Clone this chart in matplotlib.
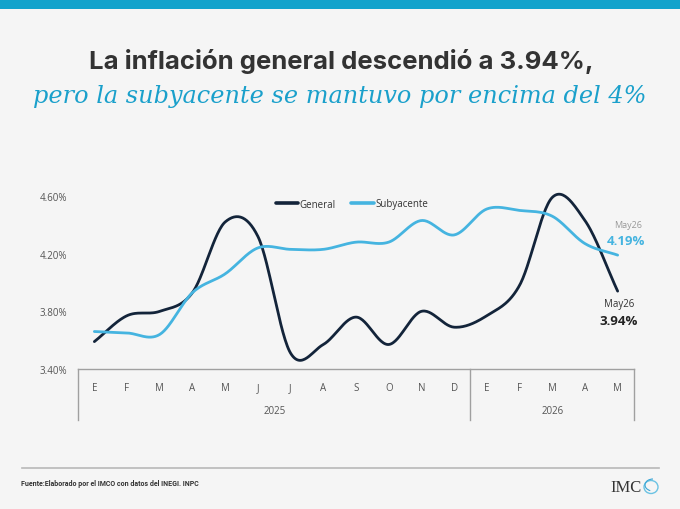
import numpy as np
import matplotlib
matplotlib.use("Agg")
import matplotlib.pyplot as plt
from matplotlib import transforms
from matplotlib.lines import Line2D
from matplotlib.patches import Rectangle, Ellipse, Arc

# ---- data ----
months = ['E', 'F', 'M', 'A', 'M', 'J', 'J', 'A', 'S', 'O', 'N', 'D',
          'E', 'F', 'M', 'A', 'M']
years = ['2025', '2026']
general = [3.59, 3.77, 3.80, 3.93, 4.42, 4.32, 3.51, 3.57, 3.76, 3.57, 3.80, 3.69,
           3.77, 3.98, 4.59, 4.43, 3.94]
subyacente = [3.66, 3.65, 3.64, 3.93, 4.06, 4.24, 4.23, 4.23, 4.28, 4.28, 4.43, 4.33,
              4.51, 4.50, 4.46, 4.27, 4.19]
yticks = [3.40, 3.80, 4.20, 4.60]
ytick_labels = ['3.40%', '3.80%', '4.20%', '4.60%']

BG = '#F5F5F5'
DARK = '#13243A'
BLUE = '#45B4E0'
TITLE_BLUE = '#1AA0CB'


def smooth(y, n=30):
    """Catmull-Rom style smoothing (like a spreadsheet 'smoothed line')."""
    y = np.asarray(y, float)
    x = np.arange(len(y), dtype=float)
    m = np.zeros_like(y)
    m[1:-1] = (y[2:] - y[:-2]) / 2.0
    m[0] = y[1] - y[0]
    m[-1] = y[-1] - y[-2]
    xs, ys = [], []
    for i in range(len(y) - 1):
        t = np.linspace(0, 1, n, endpoint=False)
        h00 = 2 * t**3 - 3 * t**2 + 1
        h10 = t**3 - 2 * t**2 + t
        h01 = -2 * t**3 + 3 * t**2
        h11 = t**3 - t**2
        xs.append(x[i] + t)
        ys.append(h00 * y[i] + h10 * m[i] + h01 * y[i + 1] + h11 * m[i + 1])
    xs.append([x[-1]])
    ys.append([y[-1]])
    return np.concatenate(xs), np.concatenate(ys)


W, H = 680, 510
fig = plt.figure(figsize=(W / 100, H / 100), dpi=100, facecolor=BG)


def fx(px):
    return px / W


def fy(py):
    return (H - py) / H


# top stripe
fig.patches.append(Rectangle((0, fy(10)), 1, 10 / H, transform=fig.transFigure,
                             facecolor='#12A3CC', edgecolor='none', zorder=0))

# titles
fig.text(fx(341), fy(62), 'La inflación general descendió a 3.94%,', ha='center',
         va='center', fontsize=18.5, fontweight='bold', color='#333333', family='Inter')
fig.text(fx(340), fy(97), 'pero la subyacente se mantuvo por encima del 4%', ha='center',
         va='center', fontsize=17.3, style='italic', color=TITLE_BLUE, family='DejaVu Serif')

# axes
x0, x1 = 78, 634
ybot, ytop = 370, 182.6
ax = fig.add_axes([fx(x0), fy(ybot), (x1 - x0) / W, (ybot - ytop) / H])
ax.set_facecolor(BG)
ax.set_xlim(-0.5, len(months) - 0.5)
ax.set_ylim(3.40, 4.70)

xs, ys = smooth(general)
ax.plot(xs, ys, color=DARK, lw=2.0, label='General', solid_capstyle='round')
xs, ys = smooth(subyacente)
ax.plot(xs, ys, color=BLUE, lw=2.0, label='Subyacente', solid_capstyle='round')

for s in ['top', 'right', 'left']:
    ax.spines[s].set_visible(False)
ax.spines['bottom'].set_color('#A0A0A0')
ax.spines['bottom'].set_linewidth(1.0)
ax.set_xticks([])
ax.set_yticks(yticks)
ax.set_yticklabels(ytick_labels)
ax.tick_params(axis='y', length=0, pad=8, labelsize=7, labelcolor='#555555')
for lab in ax.get_yticklabels():
    lab.set_family('Open Sans')

# month / year table
blend = transforms.blended_transform_factory(ax.transData, fig.transFigure)
for i, m in enumerate(months):
    ax.text(i, fy(389), m, transform=blend, ha='center', va='center', fontsize=7,
            color='#555555', family='Open Sans')
ax.text(5.5, fy(412), years[0], transform=blend, ha='center', va='center', fontsize=7,
        color='#555555', family='Open Sans')
ax.text(14, fy(412), years[1], transform=blend, ha='center', va='center', fontsize=7,
        color='#555555', family='Open Sans')
for xv in [-0.5, 11.5, len(months) - 0.5]:
    ax.add_line(Line2D([xv, xv], [fy(370), fy(421)], transform=blend, color='#A0A0A0',
                       lw=1.0, clip_on=False))

# legend
leg = ax.legend(loc='center', bbox_to_anchor=(fx(352), fy(205)),
                bbox_transform=fig.transFigure, ncol=2, frameon=False, fontsize=7,
                handlelength=2.3, handletextpad=0.15, columnspacing=1.6)
for t in leg.get_texts():
    t.set_color('#333333')
    t.set_family('Open Sans')
for h in leg.get_lines():
    h.set_linewidth(2.6)

# end labels
last = len(months) - 1
ax.annotate('May26', xy=(last, subyacente[-1]), xytext=(10, 31), textcoords='offset pixels',
            ha='center', va='center', fontsize=6.5, color='#999999', family='Open Sans')
ax.annotate(f'{subyacente[-1]:.2f}%', xy=(last, subyacente[-1]), xytext=(8, 15),
            textcoords='offset pixels', ha='center', va='center', fontsize=9.5,
            color=BLUE, fontweight='bold', family='Open Sans')
ax.annotate('May26', xy=(last, general[-1]), xytext=(1, -12), textcoords='offset pixels',
            ha='center', va='center', fontsize=7, color='#333333', family='Open Sans')
ax.annotate(f'{general[-1]:.2f}%', xy=(last, general[-1]), xytext=(1, -29),
            textcoords='offset pixels', ha='center', va='center', fontsize=9.5,
            color='#222222', fontweight='bold', family='Open Sans')

# footer
fig.add_artist(Line2D([fx(22), fx(659)], [fy(469), fy(469)], transform=fig.transFigure,
                      color='#B8B8B8', lw=1.2))
fig.text(fx(21), fy(484), 'Fuente:Elaborado por el IMCO con datos del INEGI. INPC',
         ha='left', va='center', fontsize=5, fontweight='bold', color='#333333',
         family='Roboto')
fig.text(fx(642), fy(488), 'IMC', ha='right', va='center', fontsize=12,
         color='#333333', family='Liberation Serif')
fig.patches.append(Ellipse((fx(651), fy(488)), 14 / W, 13 / H, transform=fig.transFigure,
                           facecolor='none', edgecolor='#6CC3E3', lw=1.0))
fig.patches.append(Arc((fx(653), fy(486)), 16 / W, 12 / H, theta1=90, theta2=250,
                       transform=fig.transFigure, edgecolor='#3AA6D6', lw=0.8))

fig.savefig('out.png', dpi=100, facecolor=BG)
